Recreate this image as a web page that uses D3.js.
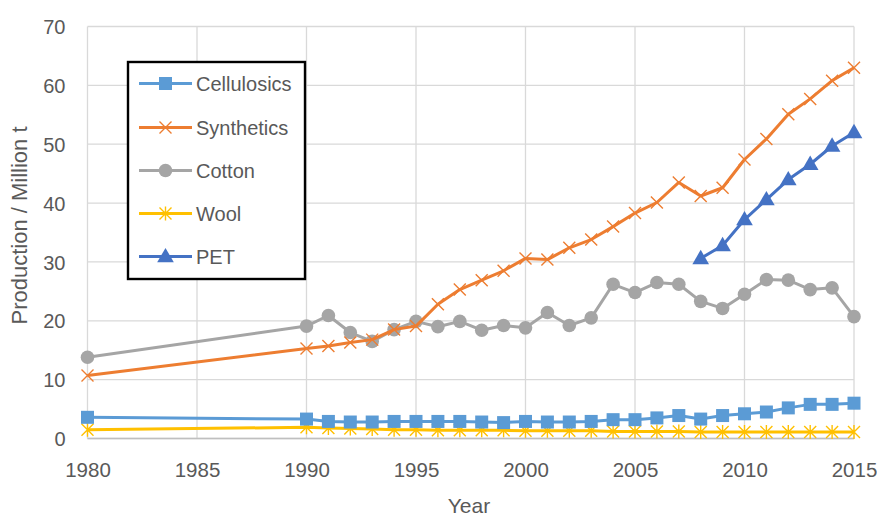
<!DOCTYPE html>
<html><head><meta charset="utf-8">
<script src="https://cdn.jsdelivr.net/npm/d3@7"></script>
<style>body{margin:0;background:#fff}svg{display:block}text{font-family:"Liberation Sans",Arial,sans-serif;fill:#595959}</style>
</head><body><svg id="c" width="877" height="516"></svg>
<script>
const years = [1980,1990,1991,1992,1993,1994,1995,1996,1997,1998,1999,2000,2001,2002,2003,2004,2005,2006,2007,2008,2009,2010,2011,2012,2013,2014,2015];
const cellulosics = [3.6,3.3,2.9,2.8,2.8,2.9,2.9,2.9,2.9,2.8,2.7,2.9,2.8,2.8,2.9,3.2,3.2,3.5,3.9,3.3,3.9,4.2,4.5,5.2,5.8,5.8,6.0];
const synthetics = [10.7,15.3,15.7,16.3,16.8,18.5,19.1,22.8,25.3,26.9,28.5,30.6,30.4,32.4,33.8,36.0,38.3,40.1,43.5,41.2,42.6,47.4,50.9,55.1,57.7,60.8,63.0];
const cotton = [13.8,19.1,20.9,18.0,16.5,18.5,19.9,19.0,19.9,18.4,19.2,18.8,21.4,19.2,20.5,26.2,24.8,26.5,26.2,23.3,22.1,24.5,27.0,26.9,25.3,25.6,20.7];
const wool = [1.5,1.9,1.8,1.7,1.6,1.5,1.5,1.4,1.4,1.4,1.4,1.3,1.3,1.3,1.3,1.2,1.2,1.2,1.2,1.1,1.1,1.1,1.1,1.1,1.1,1.1,1.1];
const petYears = [2008,2009,2010,2011,2012,2013,2014,2015];
const pet = [30.6,32.8,37.2,40.6,44.0,46.6,49.7,52.0];
const xTicks = [1980,1985,1990,1995,2000,2005,2010,2015];
const yTicks = [0,10,20,30,40,50,60,70];
const seriesNames = ["Cellulosics","Synthetics","Cotton","Wool","PET"];
const seriesColors = ["#5B9BD5","#ED7D31","#A5A5A5","#FFC000","#4472C4"];
const seriesMarkers = ["square","x","circle","star","triangle"];

const svg = d3.select("#c");
const L=87.5, R=854, T=26.5, B=438.5;
const x = d3.scaleLinear().domain([1980,2015]).range([L,R]);
const y = d3.scaleLinear().domain([0,70]).range([B,T]);
const FONT = '"Liberation Sans",Arial,sans-serif';

// gridlines
svg.append("g").selectAll("line").data(yTicks).join("line")
  .attr("x1",L).attr("x2",R).attr("y1",d=>y(d)).attr("y2",d=>y(d))
  .attr("stroke","#d9d9d9").attr("stroke-width",1.3);
svg.append("g").selectAll("line").data(xTicks).join("line")
  .attr("x1",d=>x(d)).attr("x2",d=>x(d)).attr("y1",T).attr("y2",B)
  .attr("stroke","#d9d9d9").attr("stroke-width",1.3);
svg.append("line").attr("x1",L).attr("x2",R).attr("y1",B).attr("y2",B).attr("stroke","#bfbfbf").attr("stroke-width",1.3);

// axes labels
const yAxis = d3.axisLeft(y).tickValues(yTicks).tickSize(0).tickPadding(0);
const gy = svg.append("g").attr("transform",`translate(${L-22},0)`).call(yAxis);
gy.select(".domain").remove();
gy.selectAll("text").attr("font-size",20).attr("fill","#595959").attr("dy","0.36em").style("font-family",FONT);
const xAxis = d3.axisBottom(x).tickValues(xTicks).tickFormat(d3.format("d")).tickSize(0).tickPadding(0);
const gx = svg.append("g").attr("transform",`translate(0,${B})`).call(xAxis);
gx.select(".domain").remove();
gx.selectAll("text").attr("font-size",20.5).attr("fill","#595959").attr("dy",null).attr("y",38.5).style("font-family",FONT);

svg.append("text").attr("x",469).attr("y",513).attr("text-anchor","middle").attr("font-size",21).text("Year");
svg.append("text").attr("transform",`translate(27,${225.5}) rotate(-90)`).attr("text-anchor","middle").attr("font-size",22).text("Production / Million t");

function marker(g, type, color, cx, cy){
  if(type==="square") g.append("rect").attr("x",cx-6.5).attr("y",cy-6.5).attr("width",13).attr("height",13).attr("fill",color);
  else if(type==="circle") g.append("circle").attr("cx",cx).attr("cy",cy).attr("r",6.8).attr("fill",color);
  else if(type==="triangle") g.append("path").attr("d",d3.symbol(d3.symbolTriangle,120)()).attr("transform",`translate(${cx},${cy+1})`).attr("fill",color);
  else if(type==="x") g.append("path").attr("d",`M${cx-6},${cy-6}L${cx+6},${cy+6}M${cx-6},${cy+6}L${cx+6},${cy-6}`).attr("stroke",color).attr("stroke-width",1.4).attr("fill","none");
  else if(type==="star") g.append("path").attr("d",`M${cx-6},${cy-6}L${cx+6},${cy+6}M${cx-6},${cy+6}L${cx+6},${cy-6}M${cx},${cy-7}L${cx},${cy+7}`).attr("stroke",color).attr("stroke-width",1.4).attr("fill","none");
}

const line = d3.line().x(d=>x(d[0])).y(d=>y(d[1]));
const allSeries = [
  [years,cellulosics],[years,synthetics],[years,cotton],[years,wool],[petYears,pet]
];
const order=[3,0,2,1,4];
order.forEach(i=>{
  const [xs,vs]=allSeries[i];
  const pts = xs.map((yr,j)=>[yr,vs[j]]);
  const g = svg.append("g");
  g.append("path").datum(pts).attr("d",line).attr("fill","none").attr("stroke",seriesColors[i]).attr("stroke-width",3).attr("stroke-linejoin","round");
  pts.forEach(p=>marker(g,seriesMarkers[i],seriesColors[i],x(p[0]),y(p[1])));
});

// legend
const lg = svg.append("g");
lg.append("rect").attr("x",128).attr("y",62).attr("width",177).attr("height",217).attr("fill","#fff").attr("stroke","#000").attr("stroke-width",2.4);
const rowY=[83.5,127.5,170.5,213.5,256.5];
seriesNames.forEach((n,i)=>{
  lg.append("line").attr("x1",139).attr("x2",192).attr("y1",rowY[i]).attr("y2",rowY[i]).attr("stroke",seriesColors[i]).attr("stroke-width",3);
  marker(lg,seriesMarkers[i],seriesColors[i],165.5,rowY[i]);
  lg.append("text").attr("x",196).attr("y",rowY[i]+7.5).attr("font-size",20).text(n);
});
</script></body></html>
